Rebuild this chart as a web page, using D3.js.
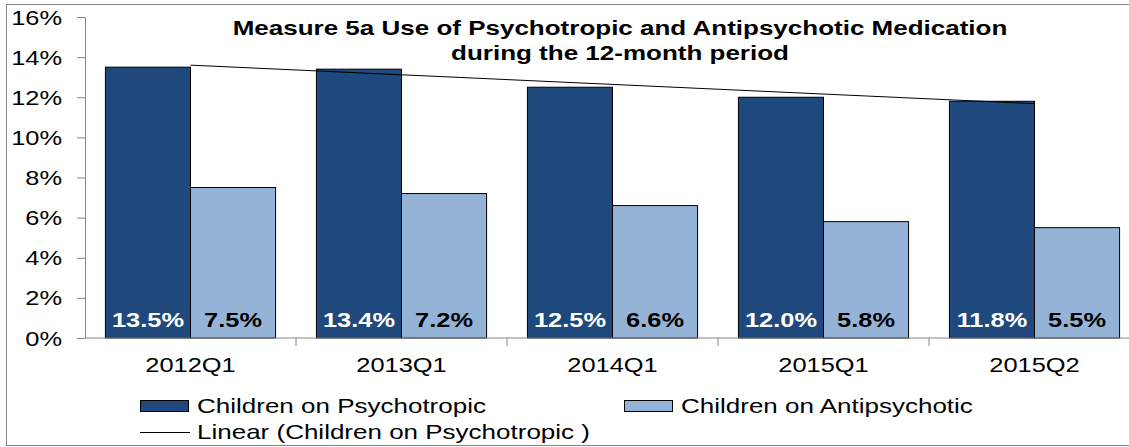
<!DOCTYPE html>
<html>
<head>
<meta charset="utf-8">
<script src="https://cdn.jsdelivr.net/npm/d3@7"></script>
<style>
  body { margin: 0; background: #fff; }
  text { font-family: "Liberation Sans", Arial, sans-serif; }
</style>
</head>
<body>
<svg id="chart" width="1129" height="447"></svg>
<script>
const categories = ["2012Q1", "2013Q1", "2014Q1", "2015Q1", "2015Q2"];
const seriesNames = ["Children on Psychotropic", "Children on Antipsychotic"];
const psychotropic = [0.135, 0.134, 0.125, 0.120, 0.118];
const antipsychotic = [0.075, 0.072, 0.066, 0.058, 0.055];
const yTicks = [0, 0.02, 0.04, 0.06, 0.08, 0.10, 0.12, 0.14, 0.16];
const titleLines = ["Measure 5a Use of Psychotropic and Antipsychotic Medication", "during the 12-month period"];
const trendName = "Linear (Children on Psychotropic )";

const colors = ["#1F497D", "#95B3D7"];
const labelColors = ["#fff", "#000"];
const sx = 1.27; // text in the reference is stretched horizontally
const sxWide = 1.3; // title and legend are a touch wider

const svg = d3.select("#chart");

  // outer chart frame
svg.append("rect")
    .attr("x", 6.5).attr("y", 4.5)
    .attr("width", 1140).attr("height", 441)
    .attr("fill", "#fff").attr("stroke", "#868686");

const x = d3.scaleBand().domain(categories).range([85, 1140]);
const xSub = d3.scaleBand().domain(seriesNames).range([0, x.bandwidth()]).paddingOuter(0.24);
const y = d3.scaleLinear().domain([0, 0.16]).range([338, 17]);

const data = categories.map((c, i) => ({cat: c, values: [psychotropic[i], antipsychotic[i]]}));

  // bars
const groups = svg.selectAll("g.cat")
    .data(data)
    .join("g")
    .attr("class", "cat")
    .attr("transform", d => "translate(" + x(d.cat) + ",0)");

groups.selectAll("rect")
    .data(d => d.values.map((v, k) => ({name: seriesNames[k], k: k, value: v})))
    .join("rect")
    .attr("x", d => xSub(d.name))
    .attr("y", d => y(d.value))
    .attr("width", xSub.bandwidth())
    .attr("height", d => y(0) - y(d.value))
    .attr("fill", d => colors[d.k])
    .attr("stroke", "#000")
    .attr("stroke-width", 1);

groups.selectAll("text.val")
    .data(d => d.values.map((v, k) => ({name: seriesNames[k], k: k, value: v})))
    .join("text")
    .attr("class", "val")
    .attr("transform", d => "translate(" + (xSub(d.name) + xSub.bandwidth() / 2) + ",327) scale(" + sx + ",1)")
    .attr("text-anchor", "middle")
    .attr("font-size", 20)
    .attr("font-weight", "bold")
    .attr("fill", d => labelColors[d.k])
    .text(d => d3.format(".1%")(d.value));

  // y axis
const yAxis = svg.append("g")
    .attr("transform", "translate(85,0)")
    .call(d3.axisLeft(y).tickValues(yTicks).tickFormat(d3.format(".0%")).tickSize(8).tickSizeOuter(0));
yAxis.select(".domain").attr("stroke", "#868686");
yAxis.selectAll(".tick line").attr("stroke", "#868686");
yAxis.selectAll(".tick text")
    .attr("x", null).attr("dy", null)
    .attr("transform", "translate(-23,7) scale(" + sx + ",1)")
    .attr("font-size", 20)
    .attr("font-family", "Liberation Sans, Arial, sans-serif")
    .attr("fill", "#000");

  // x axis: ticks at category boundaries
const xAxis = svg.append("g");
xAxis.append("line")
    .attr("x1", 85).attr("x2", 1140)
    .attr("y1", y(0)).attr("y2", y(0))
    .attr("stroke", "#868686");
xAxis.selectAll("line.tick")
    .data(categories.slice(1).concat(["end"]))
    .join("line")
    .attr("class", "tick")
    .attr("x1", d => d === "end" ? 1140 : x(d))
    .attr("x2", d => d === "end" ? 1140 : x(d))
    .attr("y1", y(0)).attr("y2", y(0) + 8)
    .attr("stroke", "#868686");
xAxis.selectAll("text")
    .data(categories)
    .join("text")
    .attr("transform", d => "translate(" + (x(d) + x.bandwidth() / 2) + ",372) scale(" + sx + ",1)")
    .attr("text-anchor", "middle")
    .attr("font-size", 20)
    .text(d => d);

  // linear trendline for psychotropic
const n = psychotropic.length;
const meanX = d3.mean(d3.range(n));
const meanY = d3.mean(psychotropic);
const slope = d3.sum(psychotropic, (v, i) => (i - meanX) * (v - meanY)) / d3.sum(d3.range(n), i => (i - meanX) ** 2);
const trend = i => meanY + slope * (i - meanX);
svg.append("line")
    .attr("x1", x(categories[0]) + x.bandwidth() / 2)
    .attr("y1", y(trend(0)))
    .attr("x2", x(categories[n - 1]) + x.bandwidth() / 2)
    .attr("y2", y(trend(n - 1)))
    .attr("stroke", "#000")
    .attr("stroke-width", 1);

  // title
svg.selectAll("text.title")
    .data(titleLines)
    .join("text")
    .attr("class", "title")
    .attr("transform", (d, i) => "translate(620," + (35 + i * 25) + ") scale(" + sxWide + ",1)")
    .attr("text-anchor", "middle")
    .attr("font-size", 20)
    .attr("font-weight", "bold")
    .text(d => d);

  // legend
const legend = svg.append("g");
const legendX = [140, 624];
seriesNames.forEach(function(name, k) {
  legend.append("rect")
      .attr("x", legendX[k] + 0.5).attr("y", 400.5)
      .attr("width", 48).attr("height", 11)
      .attr("fill", colors[k]).attr("stroke", "#000");
  legend.append("text")
      .attr("transform", "translate(" + (legendX[k] + 57) + ",413) scale(" + sxWide + ",1)")
      .attr("font-size", 20)
      .text(name);
});
legend.append("line")
    .attr("x1", 140).attr("x2", 190)
    .attr("y1", 432.5).attr("y2", 432.5)
    .attr("stroke", "#000");
legend.append("text")
    .attr("transform", "translate(197,439) scale(" + sxWide + ",1)")
    .attr("font-size", 20)
    .text(trendName);
</script>
</body>
</html>
